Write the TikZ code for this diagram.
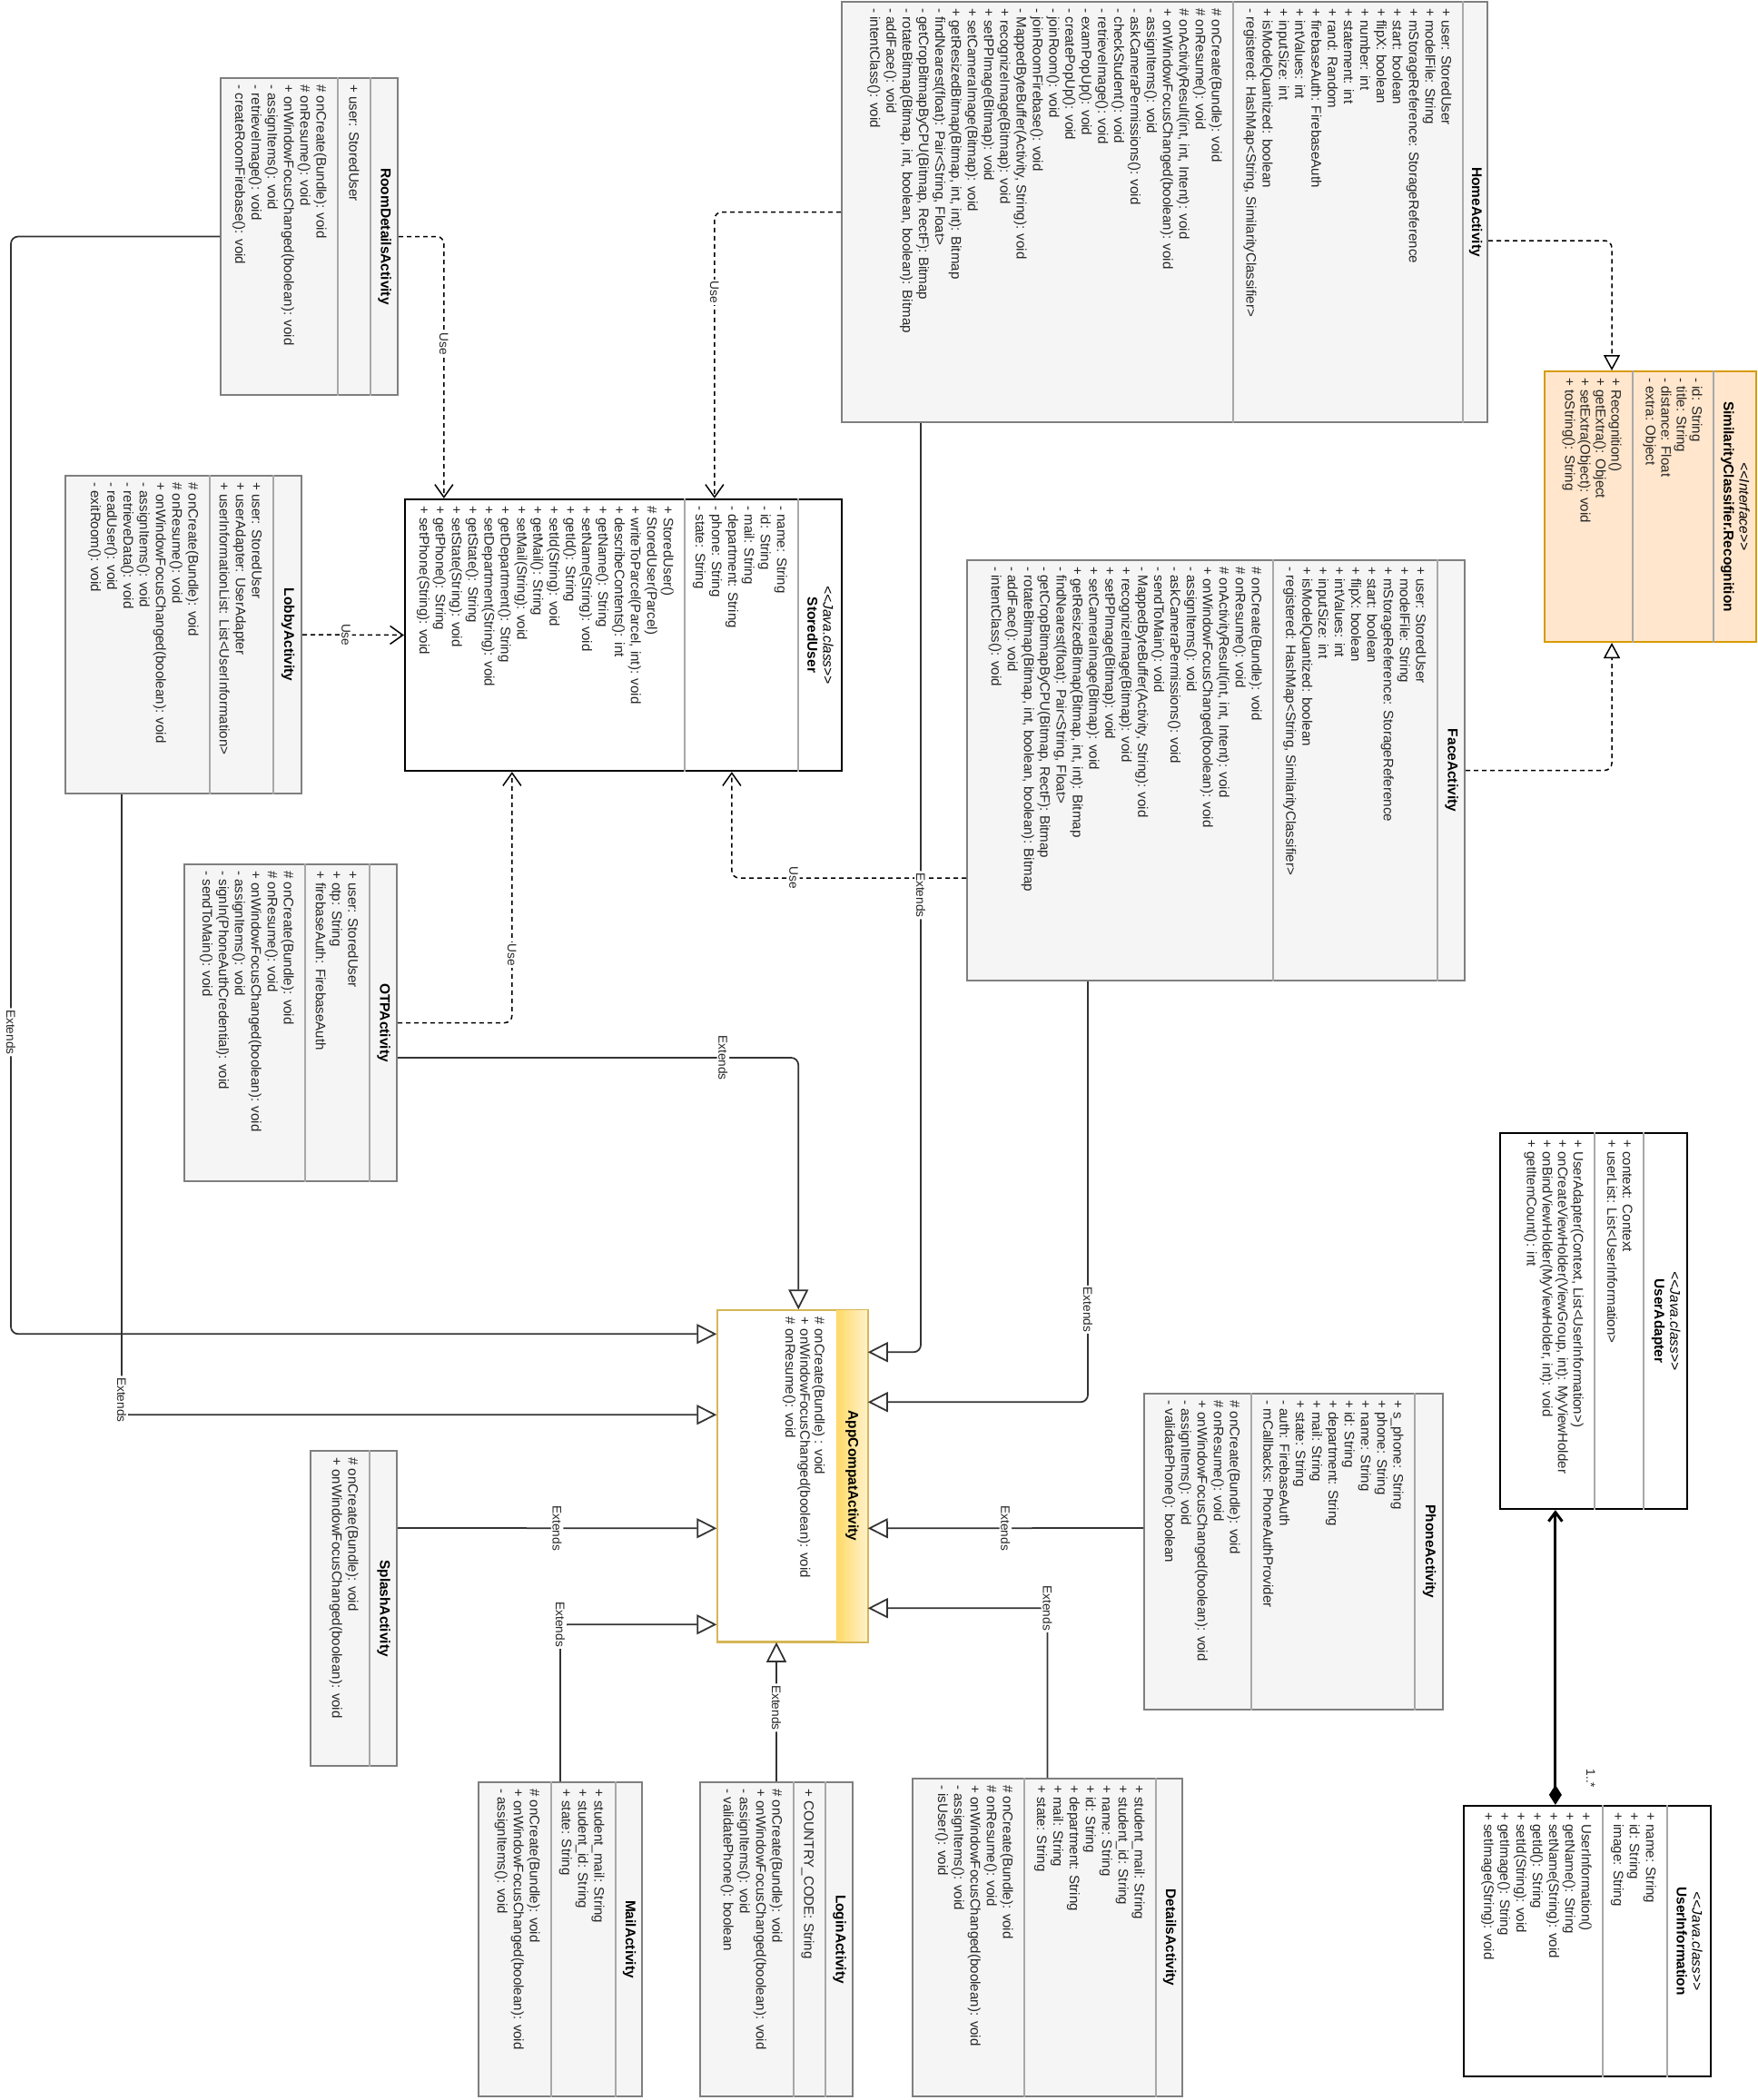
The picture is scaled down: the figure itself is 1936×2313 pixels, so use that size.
\documentclass[tikz,border=0pt]{standalone}
\usepackage{fontspec}
\setmainfont{Liberation Sans}
\usepackage{tikz}
\usetikzlibrary{calc, positioning, fit, arrows.meta}
\definecolor{boxfill}{HTML}{F5F5F5}
\definecolor{boxline}{HTML}{7F7F7F}
\definecolor{divline}{HTML}{A8A8A8}
\definecolor{recfill}{HTML}{FFE6CC}
\definecolor{recline}{HTML}{D79B00}
\definecolor{appline}{HTML}{D6B656}
\definecolor{applight}{HTML}{FFF2CC}
\definecolor{appdark}{HTML}{FFD966}
\definecolor{wire}{HTML}{333333}
\newcommand{\stereo}[1]{{\mdseries\itshape <\kern0pt<#1>\kern0pt>}}
\tikzstyle{cls}=[draw=boxline, fill=boxfill, line width=0.04cm, inner sep=0pt]
\tikzstyle{jcls}=[draw=black, fill=white, line width=0.045cm, inner sep=0pt]
\tikzstyle{icls}=[draw=recline, fill=recfill, line width=0.04cm, inner sep=0pt]
\tikzstyle{acls}=[draw=appline, fill=white, line width=0.03cm, inner sep=0pt]
\tikzstyle{div}=[draw=divline, line width=0.035cm]
\tikzstyle{members}=[rotate=-90, anchor=north west, align=left, inner sep=0pt, text=black!85, font=\fontsize{8.6}{10.2}\selectfont]
\tikzstyle{cname}=[rotate=-90, align=center, inner sep=0pt, font=\bfseries\fontsize{8.8}{9.8}\selectfont]
\tikzstyle{tag}=[rotate=-90, fill=white, inner sep=1pt, text=black!85, font=\fontsize{7.8}{9}\selectfont]
\tikzstyle{extends}=[draw=wire, line width=0.035cm, rounded corners=0.16cm, -{Triangle[length=0.44cm, width=0.44cm, fill=white]}]
\tikzstyle{uses}=[draw=black, line width=0.03cm, dash pattern=on 0.1cm off 0.08cm, rounded corners=0.16cm, -{Straight Barb[length=0.28cm, width=0.4cm]}]
\tikzstyle{realizes}=[draw=black, line width=0.03cm, dash pattern=on 0.1cm off 0.08cm, rounded corners=0.16cm, -{Triangle[length=0.34cm, width=0.36cm, fill=white]}]
\tikzstyle{owns}=[draw=black, line width=0.06cm, {Diamond[length=0.44cm, width=0.28cm]}-{Straight Barb[length=0.2cm, width=0.3cm]}]

\begin{document}
\begin{tikzpicture}[x=0.02cm, y=-0.02cm]
\fill[white] (0,0) rectangle (1936,2313);
\useasboundingbox (0,0) rectangle (1936,2313);

\node[cls, fit={(927,2) (1638,465)}] (home) {};
\node[cls, fit={(243,86) (438,435)}] (room) {};
\node[jcls, fit={(446,550) (927,849)}] (stored) {};
\node[cls, fit={(1065,617) (1613,1080)}] (face) {};
\node[icls, fit={(1701,409) (1934,707)}] (recog) {};
\node[cls, fit={(72,524) (332,874)}] (lobby) {};
\node[cls, fit={(203,952) (437,1301)}] (otp) {};
\node[jcls, fit={(1652,1248) (1858,1662)}] (adapter) {};
\node[acls, fit={(790,1443) (955,1808)}] (app) {};
\node[cls, fit={(1260,1535) (1589,1883)}] (phone) {};
\node[cls, fit={(342,1598) (437,1945)}] (splash) {};
\node[cls, fit={(527,1963) (707,2309)}] (mail) {};
\node[cls, fit={(771,1963) (939,2309)}] (login) {};
\node[cls, fit={(1005,1959) (1302,2309)}] (details) {};
\node[jcls, fit={(1612,1989) (1884,2287)}] (userinfo) {};

\shade[left color=appdark, right color=applight] ($(app.north east)+(-35,0)$) rectangle (app.south east);
\draw[appline, line width=0.03cm] (app.north west) rectangle (app.south east);

\foreach \b/\h in {home/28, room/31, stored/49, face/31, recog/48, lobby/32, otp/31, adapter/49, phone/32, splash/31, mail/30, login/31, details/30, userinfo/49, home/281, room/67, stored/174, face/212, recog/137, lobby/102, otp/102, adapter/103, phone/212, mail/101, login/66, details/175, userinfo/120}
{
\draw[div] ($(\b.north east)+(-\h,0)$) -- ($(\b.south east)+(-\h,0)$);
}

\node[cname] (homeT) at ($(home.east)+(-14,0)$) {HomeActivity};
\node[cname] (roomT) at ($(room.east)+(-15.5,0)$) {RoomDetailsActivity};
\node[cname] (storedT) at ($(stored.east)+(-24.5,0)$) {\stereo{Java.class}\\StoredUser};
\node[cname] (faceT) at ($(face.east)+(-15.5,0)$) {FaceActivity};
\node[cname] (recogT) at ($(recog.east)+(-24,0)$) {\stereo{Interface}\\SimilarityClassifier.Recognition};
\node[cname] (lobbyT) at ($(lobby.east)+(-16,0)$) {LobbyActivity};
\node[cname] (otpT) at ($(otp.east)+(-15.5,0)$) {OTPActivity};
\node[cname] (adapterT) at ($(adapter.east)+(-24.5,0)$) {\stereo{Java.class}\\UserAdapter};
\node[cname] (appT) at ($(app.east)+(-17.5,0)$) {AppCompatActivity};
\node[cname] (phoneT) at ($(phone.east)+(-16,0)$) {PhoneActivity};
\node[cname] (splashT) at ($(splash.east)+(-15.5,0)$) {SplashActivity};
\node[cname] (mailT) at ($(mail.east)+(-15,0)$) {MailActivity};
\node[cname] (loginT) at ($(login.east)+(-15.5,0)$) {LoginActivity};
\node[cname] (detailsT) at ($(details.east)+(-15,0)$) {DetailsActivity};
\node[cname] (userinfoT) at ($(userinfo.east)+(-24.5,0)$) {\stereo{Java.class}\\UserInformation};

\node[members] (homeA) at ($(home.north east)+(-40,8)$) {+ user: StoredUser\\+ modelFile: String\\+ mStorageReference: StorageReference\\+ start: boolean\\+ flipX: boolean\\+ number: int\\+ statement: int\\+ rand: Random\\+ firebaseAuth: FirebaseAuth\\+ intValues: int\\+ inputSize: int\\+ isModelQuantized: boolean\\- registered: HashMap<String, SimilarityClassifier>};
\node[members] (homeM) at ($(home.north east)+(-293,8)$) {\# onCreate(Bundle): void\\\# onResume(): void\\\# onActivityResult(int, int, Intent): void\\+ onWindowFocusChanged(boolean): void\\- assignItems(): void\\- askCameraPermissions(): void\\- checkStudent(): void\\- retrieveImage(): void\\- examPopUp(): void\\- createPopUp(): void\\- joinRoom(): void\\- joinRoomFirebase(): void\\- MappedByteBuffer(Activity, String): void\\+ recognizeImage(Bitmap): void\\+ setPPImage(Bitmap): void\\+ setCameraImage(Bitmap): void\\+ getResizedBitmap(Bitmap, int, int): Bitmap\\- findNearest(float): Pair<String, Float>\\- getCropBitmapByCPU(Bitmap, RectF): Bitmap\\- rotateBitmap(Bitmap, int, boolean, boolean): Bitmap\\- addFace(): void\\- intentClass(): void};

\node[members] (roomA) at ($(room.north east)+(-43,8)$) {+ user: StoredUser};
\node[members] (roomM) at ($(room.north east)+(-79,8)$) {\# onCreate(Bundle): void\\\# onResume(): void\\+ onWindowFocusChanged(boolean): void\\- assignItems(): void\\- retrieveImage(): void\\- createRoomFirebase(): void};

\node[members] (storedA) at ($(stored.north east)+(-61,8)$) {- name: String\\- id: String\\- mail: String\\- department: String\\- phone: String\\- state: String};
\node[members] (storedM) at ($(stored.north east)+(-186,8)$) {+ StoredUser()\\\# StoredUser(Parcel)\\+ writeToParcel(Parcel, int): void\\+ describeContents(): int\\+ getName(): String\\+ setName(String): void\\+ getId(): String\\+ setId(String): void\\+ getMail(): String\\+ setMail(String): void\\+ getDepartment(): String\\+ setDepartment(String): void\\+ getState(): String\\+ setState(String): void\\+ getPhone(): String\\+ setPhone(String): void};

\node[members] (faceA) at ($(face.north east)+(-43,8)$) {+ user: StoredUser\\+ modelFile: String\\+ mStorageReference: StorageReference\\+ start: boolean\\+ flipX: boolean\\+ intValues: int\\+ inputSize: int\\+ isModelQuantized: boolean\\- registered: HashMap<String, SimilarityClassifier>};
\node[members] (faceM) at ($(face.north east)+(-224,8)$) {\# onCreate(Bundle): void\\\# onResume(): void\\\# onActivityResult(int, int, Intent): void\\+ onWindowFocusChanged(boolean): void\\- assignItems(): void\\- askCameraPermissions(): void\\- sendToMain(): void\\- MappedByteBuffer(Activity, String): void\\+ recognizeImage(Bitmap): void\\+ setPPImage(Bitmap): void\\+ setCameraImage(Bitmap): void\\+ getResizedBitmap(Bitmap, int, int): Bitmap\\- findNearest(float): Pair<String, Float>\\- getCropBitmapByCPU(Bitmap, RectF): Bitmap\\- rotateBitmap(Bitmap, int, boolean, boolean): Bitmap\\- addFace(): void\\- intentClass(): void};

\node[members, font=\fontsize{8.6}{9.7}\selectfont] (recogA) at ($(recog.north east)+(-60,8)$) {- id: String\\- title: String\\- distance: Float\\- extra: Object};
\node[members, font=\fontsize{8.6}{9.7}\selectfont] (recogM) at ($(recog.north east)+(-149,8)$) {+ Recognition()\\+ getExtra(): Object\\+ setExtra(Object): void\\+ toString(): String};

\node[members] (lobbyA) at ($(lobby.north east)+(-44,8)$) {+ user: StoredUser\\+ userAdapter: UserAdapter\\+ userInformationList: List<UserInformation>};
\node[members] (lobbyM) at ($(lobby.north east)+(-114,8)$) {\# onCreate(Bundle): void\\\# onResume(): void\\+ onWindowFocusChanged(boolean): void\\- assignItems(): void\\- retrieveData(): void\\- readUser(): void\\- exitRoom(): void};

\node[members] (otpA) at ($(otp.north east)+(-43,8)$) {+ user: StoredUser\\+ otp: String\\+ firebaseAuth: FirebaseAuth};
\node[members] (otpM) at ($(otp.north east)+(-114,8)$) {\# onCreate(Bundle): void\\\# onResume(): void\\+ onWindowFocusChanged(boolean): void\\- assignItems(): void\\- signIn(PhoneAuthCredential): void\\- sendToMain(): void};

\node[members, font=\fontsize{8.6}{9.7}\selectfont] (adapterA) at ($(adapter.north east)+(-61,8)$) {+ context: Context\\+ userList: List<UserInformation>};
\node[members, font=\fontsize{8.6}{9.7}\selectfont] (adapterM) at ($(adapter.north east)+(-115,8)$) {+ UserAdapter(Context, List<UserInformation>)\\+ onCreateViewHolder(ViewGroup, int): MyViewHolder\\+ onBindViewHolder(MyViewHolder, int): void\\+ getItemCount(): int};

\node[members, font=\fontsize{8.6}{9.2}\selectfont] (appM) at ($(app.north east)+(-47,8)$) {\# onCreate(Bundle) : void\\+ onWindowFocusChanged(boolean): void\\\# onResume(): void};

\node[members] (phoneA) at ($(phone.north east)+(-44,8)$) {+ s\_phone: String\\+ phone: String\\+ name: String\\+ id: String\\+ department: String\\+ mail: String\\+ state: String\\- auth: FirebaseAuth\\- mCallbacks: PhoneAuthProvider};
\node[members] (phoneM) at ($(phone.north east)+(-224,8)$) {\# onCreate(Bundle): void\\\# onResume(): void\\+ onWindowFocusChanged(boolean): void\\- assignItems(): void\\- validatePhone(): boolean};

\node[members] (splashM) at ($(splash.north east)+(-43,8)$) {\# onCreate(Bundle): void\\+ onWindowFocusChanged(boolean): void};

\node[members] (mailA) at ($(mail.north east)+(-42,8)$) {+ student\_mail: String\\+ student\_id: String\\+ state: String};
\node[members] (mailM) at ($(mail.north east)+(-113,8)$) {\# onCreate(Bundle): void\\+ onWindowFocusChanged(boolean): void\\- assignItems(): void};

\node[members] (loginA) at ($(login.north east)+(-43,8)$) {+ COUNTRY\_CODE: String};
\node[members] (loginM) at ($(login.north east)+(-78,8)$) {\# onCreate(Bundle): void\\+ onWindowFocusChanged(boolean): void\\- assignItems(): void\\- validatePhone(): boolean};

\node[members] (detailsA) at ($(details.north east)+(-42,8)$) {+ student\_mail: String\\+ student\_id: String\\+ name: String\\+ id: String\\+ department: String\\+ mail: String\\+ state: String};
\node[members] (detailsM) at ($(details.north east)+(-187,8)$) {\# onCreate(Bundle): void\\\# onResume(): void\\+ onWindowFocusChanged(boolean): void\\- assignItems(): void\\- isUser(): void};

\node[members] (userinfoA) at ($(userinfo.north east)+(-61,8)$) {+ name: String\\+ id: String\\+ image: String};
\node[members] (userinfoM) at ($(userinfo.north east)+(-132,8)$) {+ UserInformation()\\+ getName(): String\\+ setName(String): void\\+ getId(): String\\+ setId(String): void\\+ getImage(): String\\+ setImage(String): void};

\coordinate (rail) at (12,0);
\coordinate (roomIn) at ($(app.north west)+(0,27)$);

\draw[uses] (room.east) -| node[tag, pos=0.705] {Use} ($(stored.north west)+(44,0)$);
\draw[uses] (home.west) -| node[tag, pos=0.64] {Use} ($(stored.north west)+(342,0)$);
\draw[uses] (lobby.east) -- node[tag, pos=0.43] {Use} (stored.west);
\draw[uses] (otp.east) -| node[tag, pos=0.635] {Use} ($(stored.south west)+(119,0)$);
\draw[uses] ($(face.south west)+(0,-114)$) -| node[tag, pos=0.368] {Use} ($(stored.south west)+(361,0)$);

\draw[realizes] ($(home.north east)+(0,264)$) -| ($(recog.north west)+(75,0)$);
\draw[realizes] (face.east) -| ($(recog.south west)+(75,0)$);

\draw[extends] ($(home.south west)+(88,0)$) |- node[tag, pos=0.254] {Extends} ($(app.north east)+(0,47)$);
\draw[extends] ($(face.south west)+(134,0)$) |- node[tag, pos=0.39] {Extends} ($(app.north east)+(0,102)$);
\draw[extends] ($(phone.north west)+(0,149)$) -- node[tag] {Extends} ($(app.north east)+(0,241)$);
\draw[extends] (details.north) |- node[tag] {Extends} ($(app.north east)+(0,329)$);
\draw[extends] (login.north) -- node[tag, pos=0.53] {Extends} (login.north |- app.south);
\draw[extends] (mail.north) |- node[tag] {Extends} ($(app.north west)+(0,347)$);
\draw[extends] ($(splash.north east)+(0,86)$) -- node[tag] {Extends} ($(app.north west)+(0,241)$);
\draw[extends] ($(otp.north east)+(0,214)$) -| node[tag, pos=0.406] {Extends} ($(app.north west)+(90,0)$);
\draw[extends] (room.west) -- (room.west -| rail) -- node[tag, pos=0.725] {Extends} (rail |- roomIn) -- (roomIn);
\draw[extends] ($(lobby.south west)+(63,0)$) |- node[tag, pos=0.488] {Extends} ($(app.north west)+(0,116)$);

\draw[owns] ($(userinfo.north west)+(102,0)$) -- ($(adapter.south west)+(62,0)$);
\node[tag, fill=none] (mult) at ($(userinfo.north west)+(141,-29)$) {1..*};
\end{tikzpicture}
\end{document}
